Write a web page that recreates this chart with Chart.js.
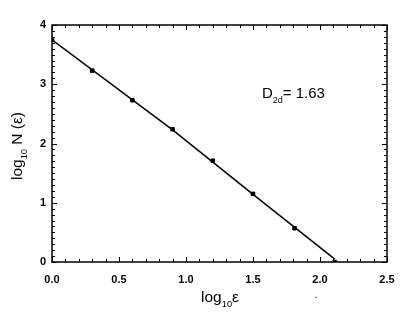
<!DOCTYPE html>
<html>
<head>
<meta charset="utf-8">
<script src="https://cdn.jsdelivr.net/npm/chart.js@4.4.1/dist/chart.umd.min.js"></script>
<style>
  html, body { margin: 0; padding: 0; background: #fff; }
  #wrap { width: 415px; height: 314px; }
</style>
</head>
<body>
<div id="wrap"><canvas id="c" width="415" height="314"></canvas></div>
<script>
// data
const logEps = [0.0, 0.3, 0.6, 0.9, 1.2, 1.5, 1.81, 2.11];
const logN = [3.75, 3.23, 2.73, 2.24, 1.71, 1.15, 0.57, 0.0];
// the fitted line, as it runs through the picture
const fitX = [0.0, 0.9, 1.5, 2.11];
const fitY = [3.75, 2.23, 1.14, 0.05];
const xTicks = [0, 0.5, 1.0, 1.5, 2.0, 2.5];
const yTicks = [0, 1, 2, 3, 4];

const labelFont = "Liberation Sans, Arial, sans-serif";

// draw text with subscript parts: [[text, isSub], ...]
function drawRich(ctx, parts, x, y, size, align) {
    let total = 0;
    parts.forEach(p => {
        ctx.font = (p[1] ? size * 0.6 : size) + "px " + labelFont;
        total += ctx.measureText(p[0]).width;
    });
    let cx = align === "center" ? x - total / 2 : x;
    ctx.textAlign = "left";
    ctx.textBaseline = "alphabetic";
    parts.forEach(p => {
        ctx.font = (p[1] ? size * 0.6 : size) + "px " + labelFont;
        ctx.fillText(p[0], cx, p[1] ? y + size * 0.3 : y);
        cx += ctx.measureText(p[0]).width;
    });
}

const framePlugin = {
    id: "frame",
    afterDraw(chart) {
        const ctx = chart.ctx;
        const a = chart.chartArea;
        const xs = chart.scales.x, ys = chart.scales.y;
        ctx.save();
        ctx.strokeStyle = "#000";
        ctx.lineWidth = 1.5;
        ctx.strokeRect(a.left, a.top, a.right - a.left, a.bottom - a.top);
        ctx.lineWidth = 1;
        ctx.beginPath();
        // x ticks, bottom and top, pointing inward
        for (let i = 0; i <= 25; i++) {
            const v = i / 10;
            const px = Math.round(xs.getPixelForValue(v)) + 0.5;
            const len = i % 5 === 0 ? 5 : 3;
            ctx.moveTo(px, a.bottom); ctx.lineTo(px, a.bottom - len);
            ctx.moveTo(px, a.top); ctx.lineTo(px, a.top + len);
        }
        // y ticks, left and right
        for (let i = 0; i <= 40; i++) {
            const v = i / 10;
            const py = Math.round(ys.getPixelForValue(v)) + 0.5;
            const len = i % 10 === 0 ? 5 : 3;
            ctx.moveTo(a.left, py); ctx.lineTo(a.left + len, py);
            ctx.moveTo(a.right, py); ctx.lineTo(a.right - len, py);
        }
        ctx.stroke();

        ctx.fillStyle = "#000";
        // annotation
        drawRich(ctx, [["D", false], ["2d", true], ["= 1.63", false]], 262, 98, 15, "left");
        // x title
        drawRich(ctx, [["log", false], ["10", true], ["ε", false]], 220, 302, 15.5, "center");
        // stray dot from the original
        ctx.font = "10px " + labelFont;
        ctx.textAlign = "center";
        ctx.fillText(".", 316, 298);
        // y title, rotated
        ctx.translate(22, 146);
        ctx.rotate(-Math.PI / 2);
        drawRich(ctx, [["log", false], ["10", true], [" N (ε)", false]], 0, 0, 15.5, "center");
        ctx.restore();
    }
};

new Chart(document.getElementById("c"), {
    type: "scatter",
    data: {
        datasets: [
            {
                label: "fit",
                type: "line",
                data: fitX.map((x, i) => ({x: x, y: fitY[i]})),
                borderColor: "#000",
                borderWidth: 1.5,
                pointRadius: 0,
                fill: false
            },
            {
                label: "data",
                data: logEps.map((x, i) => ({x: x, y: logN[i]})),
                backgroundColor: "#000",
                borderColor: "#000",
                pointStyle: "rect",
                pointRadius: 2.5,
                borderWidth: 1
            }
        ]
    },
    options: {
        responsive: false,
        animation: false,
        layout: { padding: { top: 25, right: 28, left: 0, bottom: 0 } },
        plugins: { legend: { display: false }, tooltip: { enabled: false } },
        scales: {
            x: {
                type: "linear",
                min: 0, max: 2.5,
                afterBuildTicks: s => { s.ticks = xTicks.map(v => ({value: v})); },
                afterFit: s => { s.height = 52; },
                grid: { display: false, drawTicks: false },
                border: { display: false },
                ticks: {
                    padding: 11,
                    color: "#000",
                    font: { family: labelFont, size: 11, weight: "bold" },
                    callback: v => v.toFixed(1),
                    maxRotation: 0
                }
            },
            y: {
                type: "linear",
                min: 0, max: 4,
                afterBuildTicks: s => { s.ticks = yTicks.map(v => ({value: v})); },
                afterFit: s => { s.width = 52; },
                grid: { display: false, drawTicks: false },
                border: { display: false },
                ticks: {
                    padding: 6,
                    color: "#000",
                    font: { family: labelFont, size: 11, weight: "bold" },
                    callback: v => String(v)
                }
            }
        }
    },
    plugins: [framePlugin]
});
</script>
</body>
</html>
